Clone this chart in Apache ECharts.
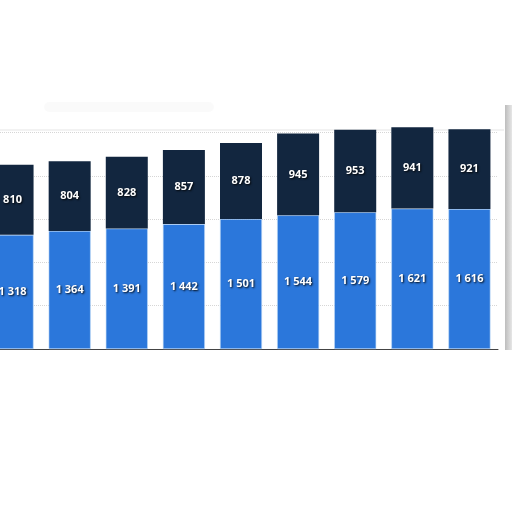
<!DOCTYPE html>
<html>
<head>
<meta charset="utf-8">
<script src="https://cdn.jsdelivr.net/npm/echarts@6/dist/echarts.min.js"></script>
<style>html,body{margin:0;padding:0;background:#fff;overflow:hidden;}#c{position:absolute;left:-16px;top:0;width:528px;height:512px;}</style>
</head>
<body>
<div id="c"></div>
<script>
var categories = ['1','2','3','4','5','6','7','8','9'];
var lowerValues = [1318, 1364, 1391, 1442, 1501, 1544, 1579, 1621, 1616];
var upperValues = [810, 804, 828, 857, 878, 945, 953, 941, 921];

var chart = echarts.init(document.getElementById('c'));
var labelStyle = {
  show: true,
  position: 'inside',
  color: '#fff',
  fontFamily: 'Open Sans',
  fontWeight: 'bold',
  fontSize: 11,
  textShadowColor: 'rgba(0,0,0,0.9)',
  textShadowBlur: 2,
  textShadowOffsetX: 1,
  textShadowOffsetY: 1,
  formatter: function (p) { return String(p.value).replace(/\B(?=(\d{3})+(?!\d))/g, ' '); }
};
chart.setOption({
  animation: false,
  backgroundColor: '#fff',
  grid: { left: 0, right: 14, top: 132.5, bottom: 163 },
  graphic: [
    {
      type: 'rect', left: 521, top: 105, shape: { width: 7, height: 245 },
      style: { fill: { type: 'linear', x: 0, y: 0, x2: 1, y2: 0, colorStops: [{ offset: 0, color: '#bdbdbd' }, { offset: 1, color: '#e6e6e6' }] } },
      z: 100
    },
    {
      type: 'rect', left: 60, top: 102, shape: { width: 170, height: 10, r: 5 },
      style: { fill: 'rgba(0,0,0,0.02)', shadowBlur: 24, shadowColor: 'rgba(0,0,0,0.07)' },
      z: -1
    },
    {
      type: 'line', shape: { x1: 16, y1: 130, x2: 520, y2: 130 },
      style: { stroke: 'rgba(0,0,0,0.10)', lineWidth: 1 },
      z: -1
    }
  ],
  xAxis: {
    type: 'category',
    data: categories,
    axisLabel: { show: false },
    axisTick: { show: false },
    axisLine: { show: true, lineStyle: { color: '#444', width: 1 } }
  },
  yAxis: {
    type: 'value',
    min: 0, max: 2500, interval: 500,
    axisLabel: { show: false },
    axisLine: { show: false },
    axisTick: { show: false },
    splitLine: { show: true, lineStyle: { color: '#d6d6d6', type: 'dotted', width: 1 } }
  },
  series: [
    {
      type: 'bar', stack: 'a', data: lowerValues, barWidth: 42, clip: false,
      itemStyle: { color: '#2b77db', borderColor: '#bcd8f7', borderWidth: 0.6 },
      label: labelStyle
    },
    {
      type: 'bar', stack: 'a', data: upperValues, barWidth: 42, clip: false,
      itemStyle: { color: '#12263f' },
      label: labelStyle
    }
  ]
});
</script>
</body>
</html>
